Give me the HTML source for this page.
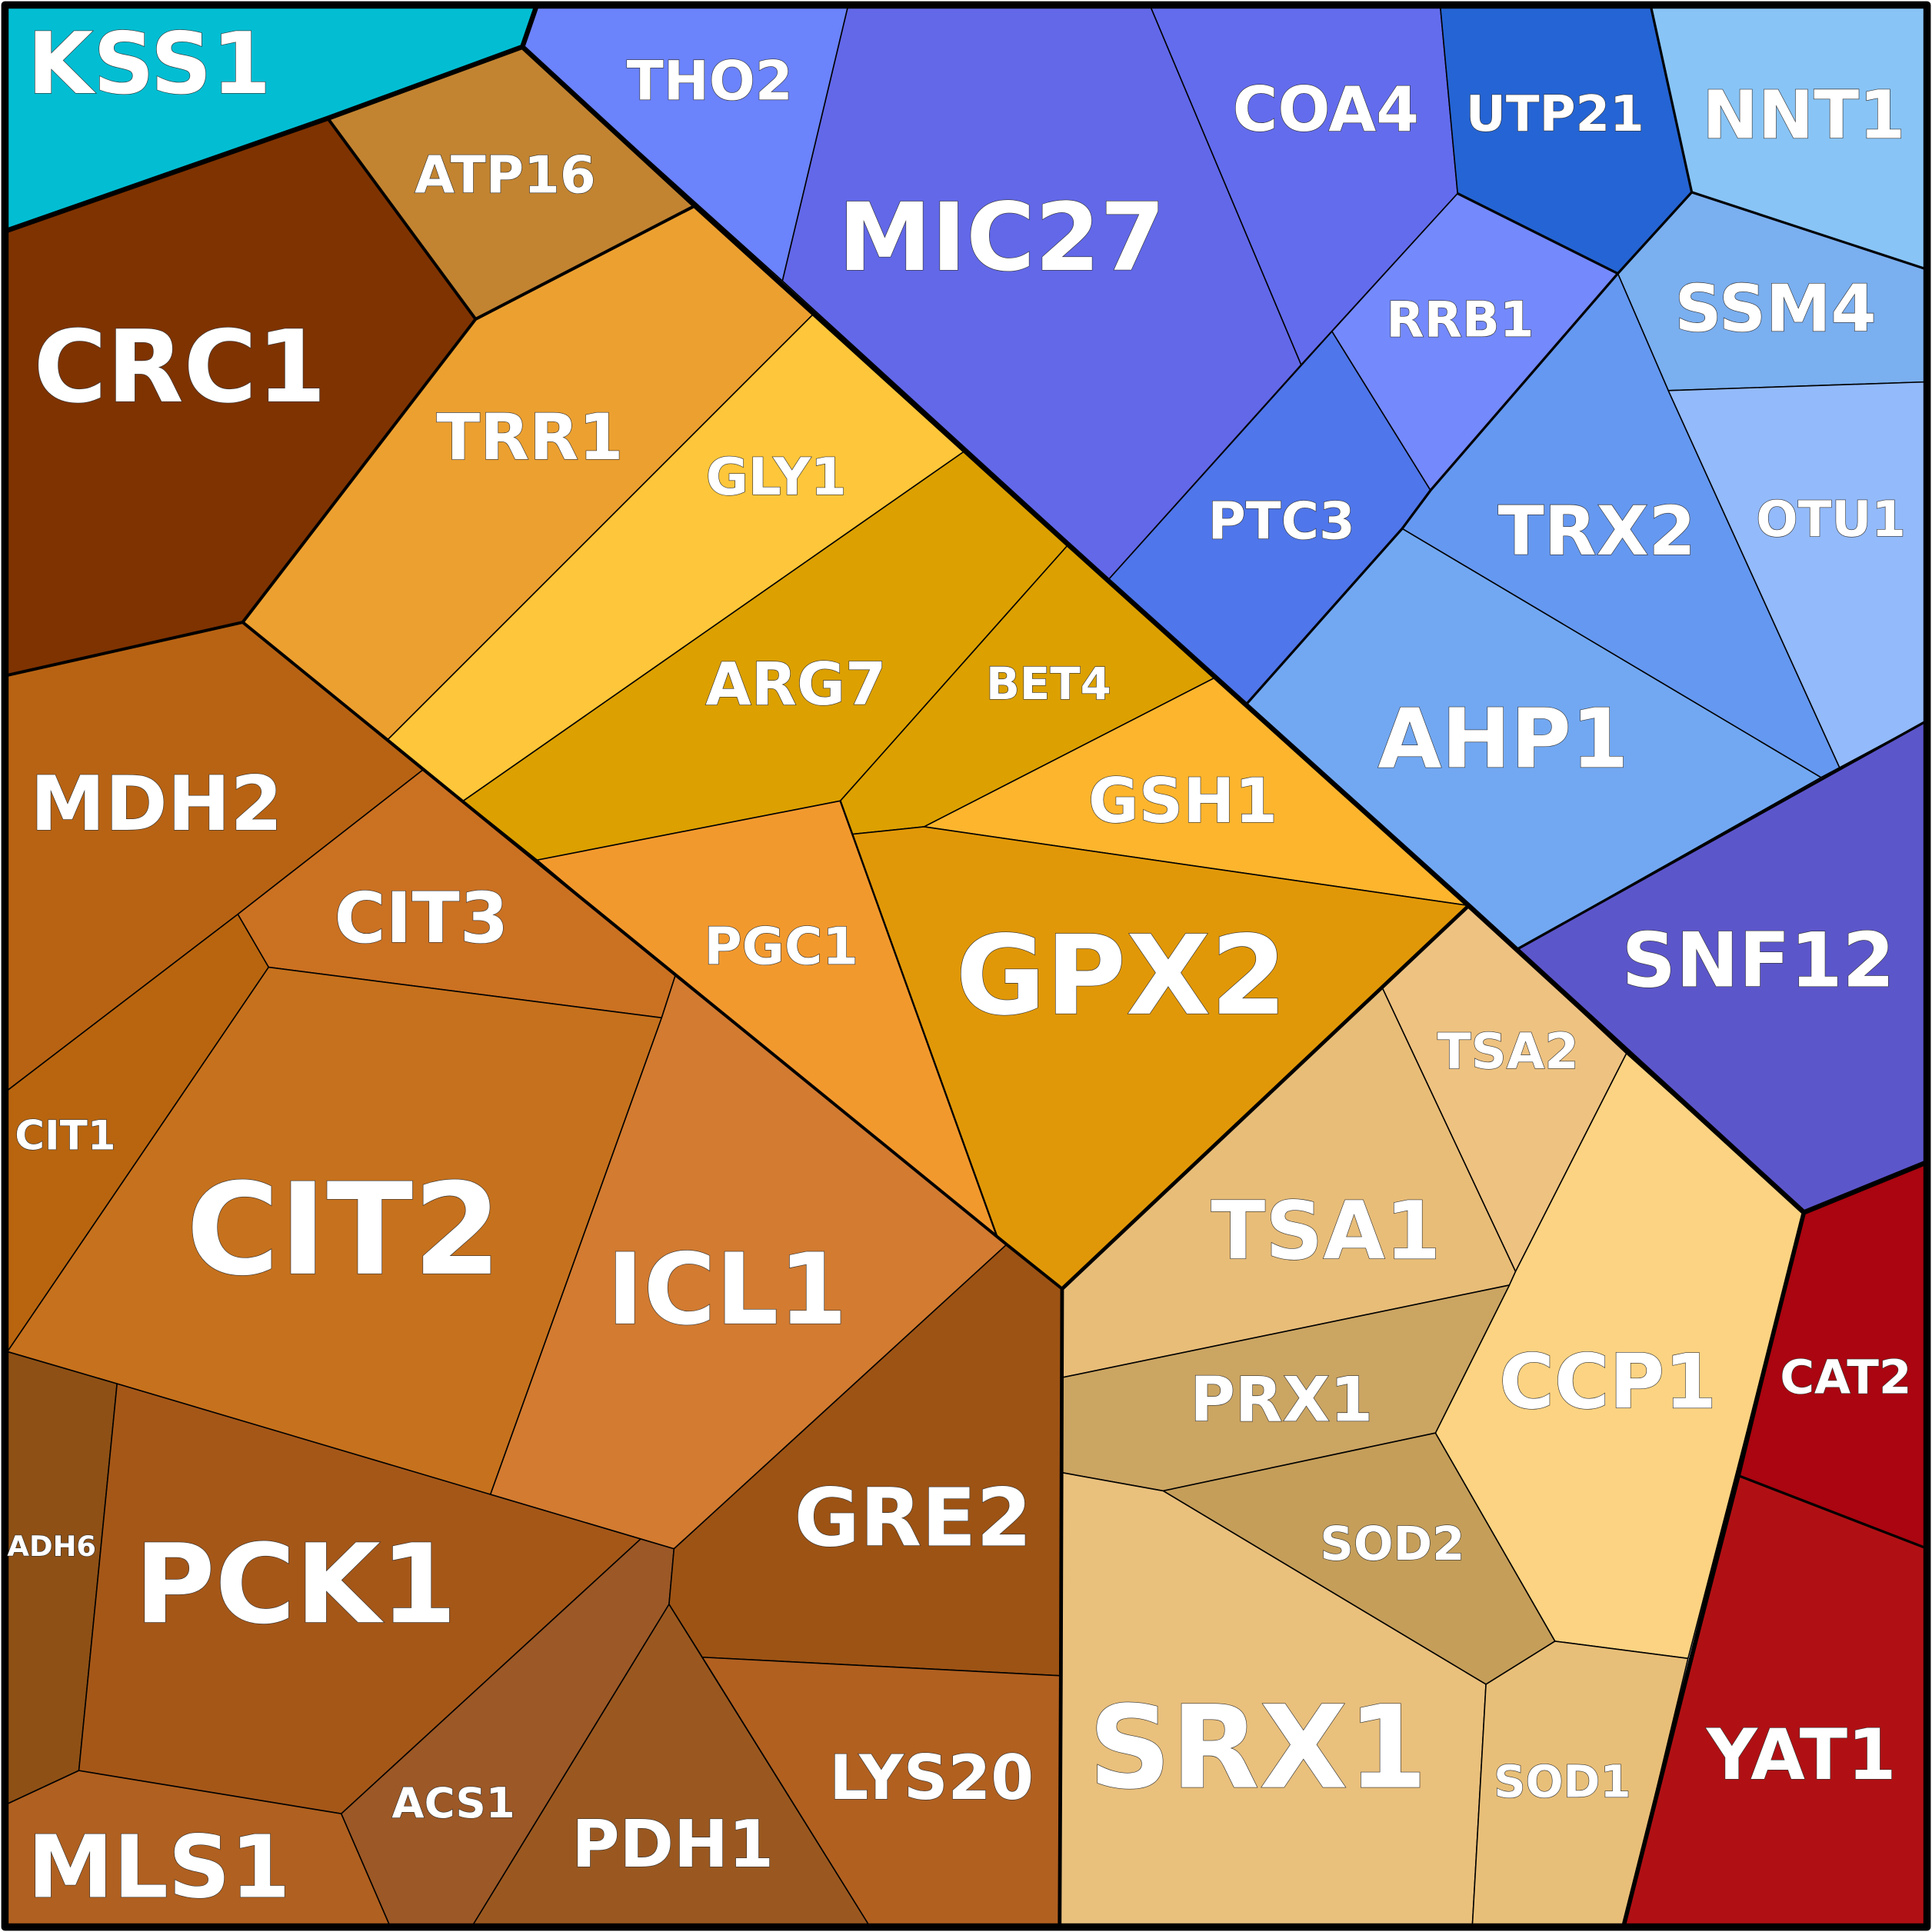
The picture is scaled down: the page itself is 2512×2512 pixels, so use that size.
<!DOCTYPE html>
<html><head><meta charset="utf-8"><style>html,body{margin:0;padding:0;background:#fff}svg{display:block}</style></head>
<body>
<svg xmlns="http://www.w3.org/2000/svg" width="2512" height="2512" viewBox="0 0 1568 1568">
<g stroke="#000" stroke-width="1" stroke-linejoin="round">
<polygon fill="#03bed3" points="6,6 435,6 424,38 266,96 6,187"/>
<polygon fill="#6b83fb" points="435,6 688,6 635,228 424,38"/>
<polygon fill="#c28431" points="424,38 564,167 386,259 266,96"/>
<polygon fill="#7f3300" points="6,187 266,96 386,259 197,505 6,548"/>
<polygon fill="#eca030" points="386,259 564,167 660,255 315,600 197,505"/>
<polygon fill="#fec63a" points="660,255 783,366 376,650 315,600"/>
<polygon fill="#dca000" points="783,366 867,442 682,650 436,698 376,650"/>
<polygon fill="#dca000" points="867,442 986,550 750,671 692,677 682,650"/>
<polygon fill="#fdb52e" points="986,550 1192,735 750,671"/>
<polygon fill="#e19808" points="692,677 750,671 1192,735 862,1046 809,1003"/>
<polygon fill="#f2992e" points="436,698 682,650 809,1003 548,792"/>
<polygon fill="#b86313" points="6,548 197,505 343,625 193,742 6,885"/>
<polygon fill="#cb7122" points="343,625 548,792 537,826 218,785 193,742"/>
<polygon fill="#b9650f" points="6,885 193,742 218,785 6,1097"/>
<polygon fill="#c6711d" points="218,785 537,826 398,1213 95,1123 6,1097"/>
<polygon fill="#d27b31" points="548,792 817,1010 547,1257 398,1213 537,826"/>
<polygon fill="#8e5015" points="6,1097 95,1123 64,1437 6,1464"/>
<polygon fill="#a55718" points="95,1123 520,1249 277,1472 64,1437"/>
<polygon fill="#b06020" points="6,1464 64,1437 277,1472 316,1562 6,1562"/>
<polygon fill="#9c5826" points="520,1249 547,1257 543,1302 384,1562 316,1562 277,1472"/>
<polygon fill="#9a5820" points="543,1302 705,1562 384,1562"/>
<polygon fill="#9d5314" points="547,1257 817,1010 862,1046 861,1360 570,1345 543,1302"/>
<polygon fill="#b16020" points="570,1345 861,1360 860,1562 705,1562"/>
<polygon fill="#6268e8" points="688,6 934,6 1056,296 900,470 635,228"/>
<polygon fill="#636ced" points="934,6 1169,6 1183,157 1056,296"/>
<polygon fill="#2564d4" points="1169,6 1340,6 1373,156 1313,222 1183,157"/>
<polygon fill="#88c4f6" points="1340,6 1562,6 1562,218 1373,156"/>
<polygon fill="#7489fb" points="1183,157 1313,222 1161,398 1081,269"/>
<polygon fill="#4f76ea" points="1081,269 1161,398 1138,429 1012,571 900,470"/>
<polygon fill="#7aaff0" points="1373,156 1562,218 1562,310 1354,317 1313,222"/>
<polygon fill="#6598f0" points="1313,222 1354,317 1493,623 1478,631 1138,429 1161,398"/>
<polygon fill="#93bafa" points="1354,317 1562,310 1562,586 1493,623"/>
<polygon fill="#72a8f2" points="1138,429 1478,631 1232,770 1012,571"/>
<polygon fill="#5c56cb" points="1478,631 1562,586 1562,944 1464,984 1320,855 1232,770"/>
<polygon fill="#eec280" points="1122,802 1192,735 1320,855 1230,1032"/>
<polygon fill="#e8bd78" points="862,1046 1122,802 1230,1032 1225,1043 862,1118"/>
<polygon fill="#fcd382" points="1320,855 1464,984 1370,1346 1262,1332 1165,1163 1225,1043 1230,1032"/>
<polygon fill="#cba562" points="862,1118 1225,1043 1165,1163 944,1210 861,1195"/>
<polygon fill="#c59e59" points="944,1210 1165,1163 1262,1332 1206,1367"/>
<polygon fill="#e9c07c" points="861,1195 944,1210 1206,1367 1195,1562 860,1562"/>
<polygon fill="#e8bf78" points="1206,1367 1262,1332 1370,1346 1318,1562 1195,1562"/>
<polygon fill="#aa0510" points="1464,984 1562,944 1562,1256 1412,1198"/>
<polygon fill="#b01014" points="1412,1198 1562,1256 1562,1562 1318,1562"/>
</g>
<g fill="none" stroke="#000" stroke-linejoin="round">
<polyline stroke-width="2.5" points="6,187 266,96 386,259 197,505 6,548"/>
<polyline stroke-width="2.5" points="386,259 564,167"/>
<polyline stroke-width="2.5" points="197,505 817,1010 862,1046"/>
<polyline stroke-width="1.5" points="682,650 809,1003"/>
<polyline stroke-width="2" points="1373,156 1340,6"/>
<polyline stroke-width="2" points="1183,157 1313,222 1373,156 1562,218"/>
<polyline stroke-width="2" points="1313,222 1161,398 1138,429 1012,571"/>
<polyline stroke-width="2" points="1232,770 1562,586"/>
<polyline stroke-width="2" points="1562,1256 1412,1198"/>
<polyline stroke-width="4" points="6,187 266,96 424,38 435,6"/>
<polyline stroke-width="4" points="424,38 564,167 867,442 1192,735 1464,984 1562,944"/>
<polyline stroke-width="3" points="1192,735 862,1046 861,1360 860,1562"/>
<polyline stroke-width="3.5" points="1464,984 1318,1562"/>
<rect x="4" y="4" width="1560" height="1560" stroke-width="6"/>
</g>
<g font-family="'DejaVu Sans','Liberation Sans',sans-serif" font-weight="bold" fill="#fff" stroke="#333" stroke-width="0.8" paint-order="stroke" text-anchor="middle" dominant-baseline="central">
<text x="121" y="52" font-size="69">KSS1</text>
<text x="576" y="66" font-size="44">THO2</text>
<text x="410" y="142" font-size="42">ATP16</text>
<text x="146" y="298" font-size="81">CRC1</text>
<text x="430" y="355" font-size="52">TRR1</text>
<text x="630" y="387" font-size="42">GLY1</text>
<text x="813" y="193" font-size="76">MIC27</text>
<text x="1076" y="89" font-size="50">COA4</text>
<text x="1262" y="93" font-size="40">UTP21</text>
<text x="1464" y="94" font-size="54">NNT1</text>
<text x="1185" y="260" font-size="40">RRB1</text>
<text x="1441" y="251" font-size="53">SSM4</text>
<text x="1040" y="423" font-size="42">PTC3</text>
<text x="1296" y="431" font-size="55">TRX2</text>
<text x="1486" y="422" font-size="40">OTU1</text>
<text x="646" y="556" font-size="48">ARG7</text>
<text x="851" y="555" font-size="36">BET4</text>
<text x="1220" y="600" font-size="67">AHP1</text>
<text x="960" y="650" font-size="50">GSH1</text>
<text x="127" y="653" font-size="61">MDH2</text>
<text x="1427" y="780" font-size="61">SNF12</text>
<text x="342" y="745" font-size="57">CIT3</text>
<text x="634" y="768" font-size="42">PGC1</text>
<text x="910" y="792" font-size="89">GPX2</text>
<text x="1224" y="854" font-size="40">TSA2</text>
<text x="53" y="922" font-size="33">CIT1</text>
<text x="279" y="998" font-size="103">CIT2</text>
<text x="1076" y="999" font-size="65">TSA1</text>
<text x="590" y="1047" font-size="80">ICL1</text>
<text x="1305" y="1122" font-size="61">CCP1</text>
<text x="1498" y="1118" font-size="38">CAT2</text>
<text x="1040" y="1136" font-size="50">PRX1</text>
<text x="741" y="1232" font-size="65">GRE2</text>
<text x="1130" y="1253" font-size="38">SOD2</text>
<text x="42" y="1255" font-size="23">ADH6</text>
<text x="240" y="1286" font-size="89">PCK1</text>
<text x="1021" y="1419" font-size="93">SRX1</text>
<text x="1462" y="1424" font-size="57">YAT1</text>
<text x="756" y="1443" font-size="50">LYS20</text>
<text x="1268" y="1446" font-size="36">SOD1</text>
<text x="368" y="1463" font-size="34">ACS1</text>
<text x="546" y="1497" font-size="53">PDH1</text>
<text x="129" y="1516" font-size="70">MLS1</text>
</g>
</svg>
</body></html>
